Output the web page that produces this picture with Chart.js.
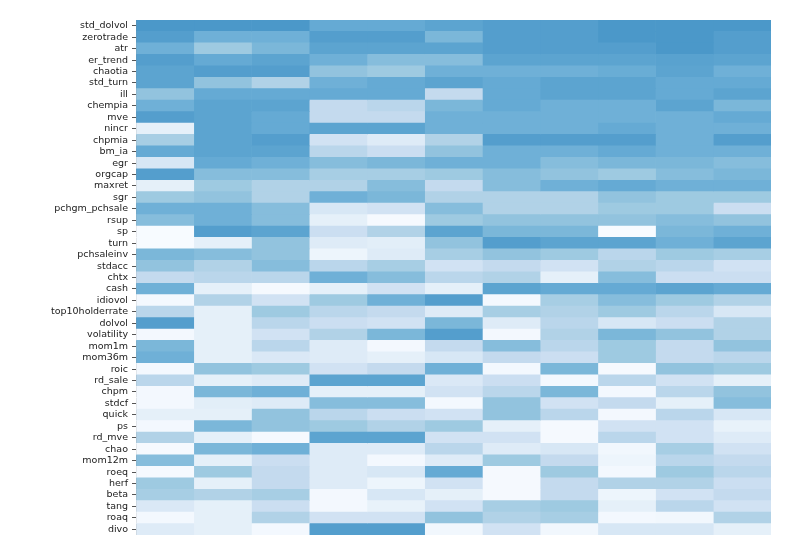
<!DOCTYPE html>
<html>
<head>
<meta charset="utf-8">
<script src="https://cdn.jsdelivr.net/npm/chart.js@4.4.1/dist/chart.umd.min.js"></script>
<style>
  html, body { margin: 0; padding: 0; background: #fff; }
  #wrap { width: 800px; height: 535px; }
</style>
</head>
<body>
<div id="wrap"><canvas id="heat"></canvas></div>
<script>
// Row labels, top to bottom
const features = [
  'std_dolvol', 'zerotrade', 'atr', 'er_trend', 'chaotia', 'std_turn', 'ill',
  'chempia', 'mve', 'nincr', 'chpmia', 'bm_ia', 'egr', 'orgcap', 'maxret', 'sgr',
  'pchgm_pchsale', 'rsup', 'sp', 'turn', 'pchsaleinv', 'stdacc', 'chtx', 'cash',
  'idiovol', 'top10holderrate', 'dolvol', 'volatility', 'mom1m', 'mom36m', 'roic',
  'rd_sale', 'chpm', 'stdcf', 'quick', 'ps', 'rd_mve', 'chao', 'mom12m', 'roeq',
  'herf', 'beta', 'tang', 'roaq', 'divo'
];

const columnCount = 11;

// Cell intensity per row (0 = white, 10 = darkest), one entry per column
const intensity = [
  [9.5, 9.5, 9.5, 8, 8, 8.5, 9, 9, 9.5, 9.5, 9.5],
  [9, 7.5, 7.5, 9, 9, 7, 9, 9, 9.5, 9.5, 9],
  [7.5, 5.5, 7, 8.5, 8.5, 8.5, 9, 9, 9, 9.5, 9],
  [9, 8, 8.5, 7.5, 6.5, 6.5, 8.5, 8.5, 8.5, 8.7, 8.5],
  [8.5, 9, 9, 6, 5.5, 7.5, 7.5, 7.5, 7.8, 8.5, 7.5],
  [8.5, 6, 4.5, 7.5, 8, 8.5, 8, 8.5, 8.5, 8, 8],
  [6, 8, 8, 8, 8, 3.5, 8, 8.5, 8.5, 8, 8.5],
  [7.5, 8.5, 8.5, 3.5, 4, 7, 8, 7.5, 7.5, 8.5, 7],
  [9, 8.5, 8, 3.5, 3.5, 7.5, 7.5, 7.5, 7.5, 7.5, 8],
  [1, 8.5, 8, 8.5, 8.5, 7.5, 7.5, 7.5, 8, 7.5, 7.5],
  [5, 8.5, 9, 2.5, 1.5, 4.5, 9, 9, 9, 7.5, 9],
  [8, 8.5, 8.5, 4, 3, 6, 7.5, 7.5, 8, 7.5, 7.5],
  [2, 8, 7.5, 6.5, 7, 7.5, 7.5, 6.5, 7, 7, 6.5],
  [9, 6.5, 6.5, 5, 5, 5.5, 6.5, 6, 5.5, 6.5, 7],
  [1, 5.5, 4.5, 4.5, 6.5, 3.5, 6.5, 7.5, 8, 7.5, 7.5],
  [5.5, 6, 4.5, 7.5, 7, 4.5, 4.5, 4.5, 6, 5.5, 5.5],
  [7.5, 7.5, 6.5, 2, 2.5, 6.5, 4.5, 4.5, 5.5, 5.5, 3],
  [6.5, 7.5, 6.5, 1, 0.1, 5.5, 6, 6, 6, 6.5, 6],
  [0, 9, 8.5, 3, 4.5, 8.5, 7, 7, 0, 7, 7.5],
  [0, 1, 6, 1.5, 1.2, 6, 9, 8.5, 8.5, 7.5, 8.5],
  [7, 6.5, 6, 0.5, 1.5, 5, 6, 5.5, 4, 5.5, 5],
  [6, 4.5, 6.5, 4, 5, 2.5, 3.5, 2.5, 4.5, 4, 2.5],
  [3.5, 4, 4, 7.5, 6.5, 4, 4.5, 1, 6.5, 3, 3],
  [7.5, 1, 0.1, 1, 2.5, 1, 8.5, 8, 8, 8.5, 8],
  [0.2, 4.5, 2.5, 5.5, 7.5, 9, 0.2, 5, 6.5, 5.5, 4.5],
  [4, 1, 5.5, 4, 3.5, 1.5, 5, 4.5, 5.5, 4, 2],
  [9, 1, 4, 3, 2.5, 7, 1.5, 4, 2, 3, 4.5],
  [0.2, 1, 2.5, 4.5, 7, 9, 0.2, 4.5, 7, 6, 4.5],
  [7, 1, 4, 1.5, 0.2, 3.5, 6.5, 4, 5.5, 3.5, 6],
  [7.5, 1, 1.8, 1.5, 1, 2, 3.5, 3, 5.5, 3.5, 4],
  [0.2, 6, 5.5, 2.5, 3.5, 7.5, 0.2, 7, 0.1, 6, 5.5],
  [4, 1, 1.5, 8.5, 8.5, 1.8, 3, 0.2, 4, 2.5, 1],
  [0.2, 7, 7.5, 1, 1, 2.5, 4, 7, 0.2, 4, 6],
  [0.2, 1.2, 1.5, 6.5, 6.5, 0.2, 6, 2.5, 3.5, 1, 6.5],
  [1, 1, 6, 4, 3, 2.5, 6, 4, 0.2, 4, 2],
  [0.2, 7, 6, 5.5, 4.5, 5.5, 1, 0.1, 2.5, 2.5, 0.8],
  [4.5, 1, 0.1, 8.5, 8.5, 2.5, 2.5, 0.1, 4, 2.5, 1.5],
  [0.1, 7, 7.5, 1.5, 1.5, 4, 1.5, 2, 0.3, 5, 2.5],
  [6.5, 1, 3, 1.5, 0.2, 1.5, 5.5, 3.5, 0.5, 4, 3.5],
  [0.1, 5.5, 3.5, 1.5, 2, 8, 0.1, 5.5, 0.2, 5.5, 4],
  [5.5, 1, 3.5, 1.5, 0.5, 2.5, 0.1, 3.5, 4.5, 4.5, 3],
  [5, 4.5, 5, 0.2, 2, 1, 0.1, 3.5, 0.5, 2.5, 3.5],
  [1.8, 1, 3, 0.2, 0.8, 2.5, 5, 5.5, 1, 4, 2.5],
  [0.2, 1, 4.5, 2.5, 2.5, 6, 4.5, 5, 0.2, 0.3, 4.5],
  [1.5, 1, 0.2, 9, 9, 0.3, 2.5, 0.3, 2, 2, 1]
];

// Lower part of the matplotlib "Blues" map (white -> mid blue)
const blueStops = [
  [247, 251, 255],
  [222, 235, 247],
  [198, 219, 239],
  [158, 202, 225],
  [107, 174, 214],
  [66, 146, 198]
];

function blueFor(v) {
  // slight gamma so the mid tones come out a little deeper
  const s = Math.pow(Math.max(0, Math.min(1, v / 10)), 0.85);
  const t = s * (blueStops.length - 1);
  const i = Math.min(Math.floor(t), blueStops.length - 2);
  const f = t - i;
  const a = blueStops[i], b = blueStops[i + 1];
  const c = a.map((x, k) => Math.round(x + (b[k] - x) * f));
  return `rgb(${c[0]}, ${c[1]}, ${c[2]})`;
}

// One stacked dataset per column, each cell one unit wide
const datasets = [];
for (let c = 0; c < columnCount; c++) {
  datasets.push({
    label: 'col' + (c + 1),
    data: features.map(() => 1),
    backgroundColor: intensity.map(row => blueFor(row[c])),
    borderWidth: 0,
    barPercentage: 1,
    categoryPercentage: 1,
    yAxisID: 'y'
  });
}

new Chart(document.getElementById('heat').getContext('2d'), {
  type: 'bar',
  data: { labels: features, datasets },
  options: {
    indexAxis: 'y',
    responsive: true,
    maintainAspectRatio: false,
    animation: false,
    layout: { padding: { top: 20, right: 29, bottom: 0, left: 0 } },
    plugins: {
      legend: { display: false },
      tooltip: { enabled: false }
    },
    scales: {
      x: {
        type: 'linear',
        stacked: true,
        min: 0,
        max: columnCount,
        z: 1,
        ticks: { display: false, stepSize: 1 },
        border: { display: false },
        grid: {
          drawTicks: false,
          color: ctx => (ctx.tick.value === 0 || ctx.tick.value === columnCount)
            ? 'rgba(255,255,255,0)' : 'rgba(255,255,255,0.45)'
        },
        afterFit: scale => { scale.height = 0; }
      },
      y: {
        type: 'category',
        stacked: true,
        position: 'left',
        z: 1,
        border: { display: true, color: '#888', width: 1 },
        grid: {
          offset: false,
          drawOnChartArea: false,
          drawTicks: true,
          tickLength: 4,
          tickColor: '#555'
        },
        ticks: {
          autoSkip: false,
          padding: 4,
          color: '#222',
          font: { family: 'DejaVu Sans', size: 9.5 }
        },
        afterFit: scale => {
          scale.width = 136;
          scale.paddingTop = 0;
          scale.paddingBottom = 0;
        }
      },
      yGrid: {
        type: 'category',
        position: 'right',
        z: 1,
        border: { display: false },
        ticks: { display: false },
        grid: {
          offset: true,
          drawTicks: false,
          color: 'rgba(255,255,255,0.3)'
        },
        afterFit: scale => {
          scale.width = 0;
          scale.paddingTop = 0;
          scale.paddingBottom = 0;
        }
      }
    }
  }
});
</script>
</body>
</html>
